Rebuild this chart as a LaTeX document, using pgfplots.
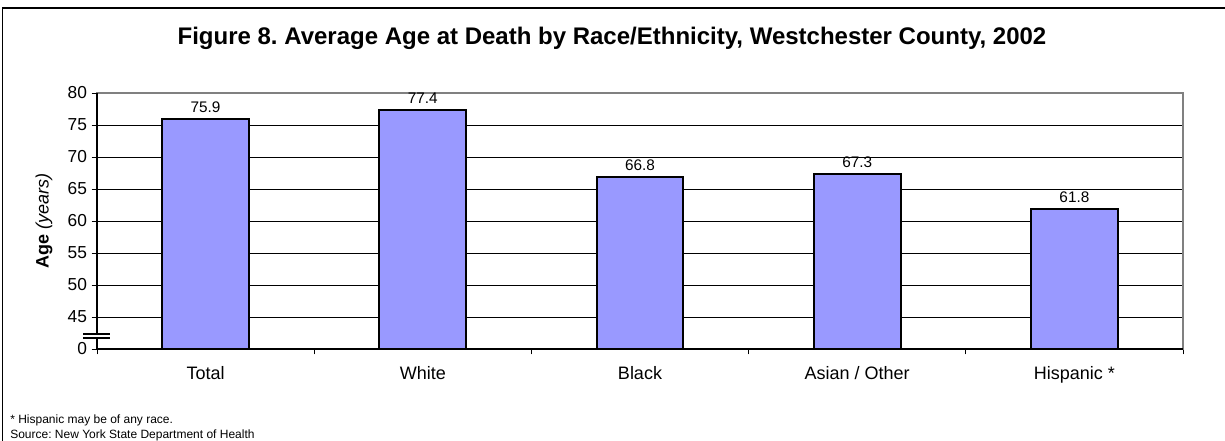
\documentclass[border=0pt]{standalone}
\usepackage{fontspec}
\setmainfont{Liberation Sans}
\usepackage{pgfplots}
\pgfplotsset{compat=1.18}
\definecolor{barblue}{HTML}{9999FF}
\definecolor{framegray}{HTML}{808080}

\begin{document}
\frenchspacing
\begin{tikzpicture}
  \useasboundingbox (0,0) rectangle (918.75pt,330.75pt);
  % outer chart frame
  \draw[line width=1.1pt] (1.9pt,0) -- (1.9pt,324.75pt) -- (918.75pt,324.75pt);
  \node[font=\bfseries\fontsize{18}{21}\selectfont] at (459pt,302.25pt)
    {Figure 8. Average Age at Death by Race/Ethnicity, Westchester County, 2002};

  \begin{axis}[
    at={(72.75pt,69pt)}, anchor=south west,
    scale only axis, width=814.5pt, height=192pt,
    ybar, bar width=65pt,
    xmin=-0.5, xmax=4.5, ymin=40, ymax=80,
    xtick={0,...,4},
    xticklabels={Total,White,Black,Asian / Other,Hispanic *},
    major x tick style={draw=none},
    minor xtick={-0.5,0.5,...,4.5},
    ytick={40,45,...,80},
    yticklabels={0,45,50,55,60,65,70,75,80},
    tick align=outside, tick pos=left,
    major tick length=4pt, minor tick length=4pt,
    tick style={black, line width=0.6pt},
    ymajorgrids, grid style={black, line width=0.7pt},
    axis line style={framegray, line width=1.4pt},
    yticklabel style={font=\fontsize{13}{15}\selectfont},
    xticklabel style={font=\fontsize{13.5}{15}\selectfont, yshift=-5.5pt},
    /pgf/number format/assume math mode=true,
    nodes near coords,
    every node near coord/.append style={font=\fontsize{11.5}{13}\selectfont, inner sep=0pt, yshift=4pt, black},
    point meta=explicit symbolic,
  ]
    \addplot[fill=barblue, draw=black, line width=1.5pt] coordinates {
      (0,75.9) [75.9]
      (1,77.4) [77.4]
      (2,66.8) [66.8]
      (3,67.3) [67.3]
      (4,61.8) [61.8]
    };
  \end{axis}

  % left and bottom axis lines in black
  \draw[black, line width=1.4pt] (72.75pt,261pt) -- (72.75pt,69pt) -- (887.25pt,69pt);
  % axis break
  \fill[white] (62.25pt,77.25pt) rectangle (82.5pt,80.25pt);
  \draw[black, line width=0.8pt] (62.25pt,77.25pt) -- (82.5pt,77.25pt);
  \draw[black, line width=0.8pt] (62.25pt,80.25pt) -- (82.5pt,80.25pt);

  \node[rotate=90, font=\fontsize{13.5}{15}\selectfont] at (33pt,165pt)
    {\textbf{Age} \textit{(years)}};

  \node[anchor=west, font=\fontsize{9}{10}\selectfont, inner sep=0pt] at (7.5pt,15.75pt)
    {* Hispanic may be of any race.};
  \node[anchor=west, font=\fontsize{9}{10}\selectfont, inner sep=0pt] at (7.5pt,4.5pt)
    {Source: New York State Department of Health};
\end{tikzpicture}
\end{document}
